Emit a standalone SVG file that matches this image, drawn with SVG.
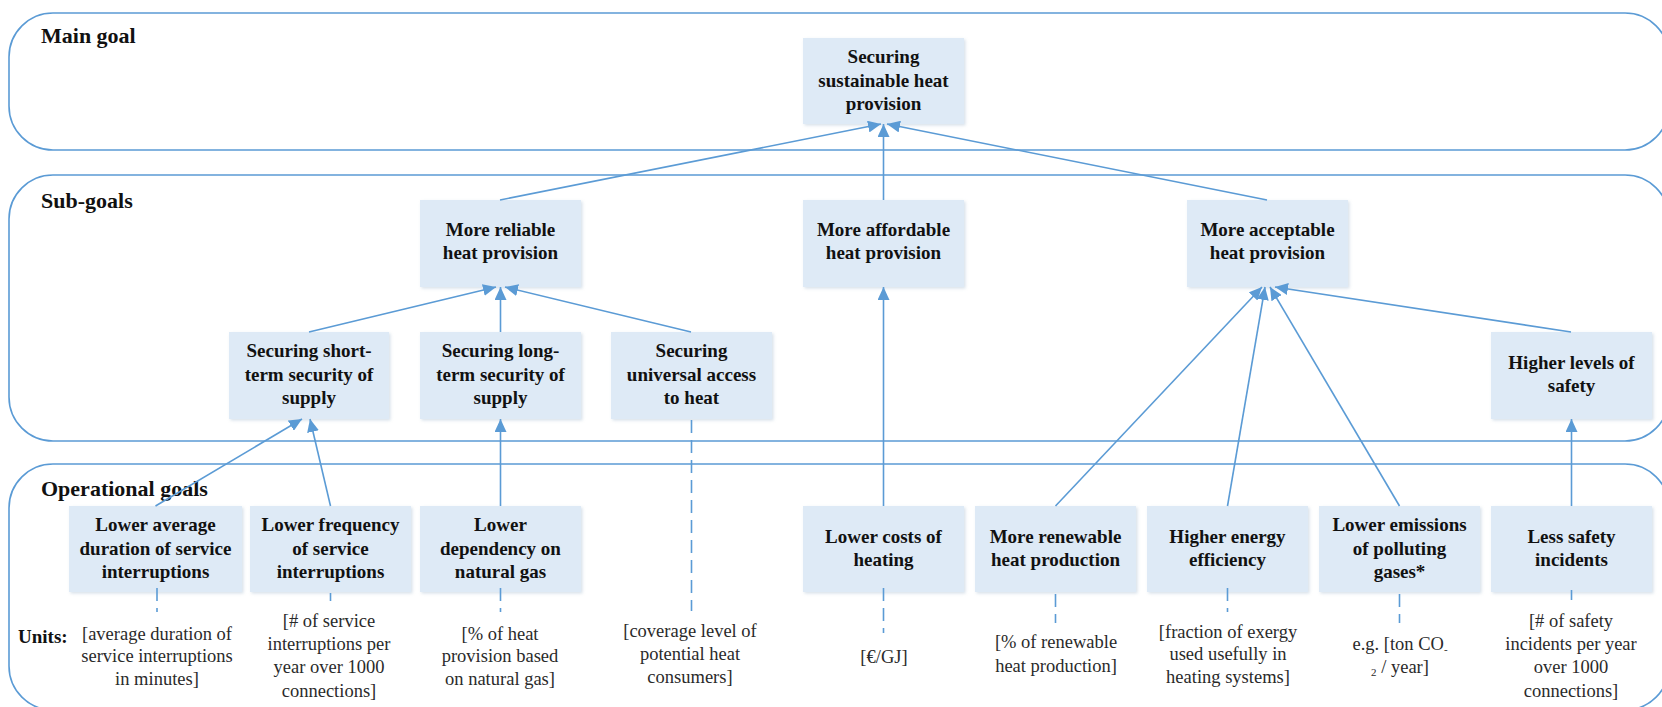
<svg xmlns="http://www.w3.org/2000/svg" width="1662" height="707" viewBox="0 0 1662 707">
  <defs>
    <style>
      .band { fill: none; stroke: #5B9BD5; stroke-width: 1.6; }
      .band-label { font-family: "Liberation Serif", "Times New Roman", serif; font-weight: bold; font-size: 22px; fill: #111; }
      .box { fill: #DEEAF6; filter: url(#soft); }
      .lbl { font-family: "Liberation Serif", "Times New Roman", serif; font-weight: bold; font-size: 19px; fill: #111; text-anchor: middle; }
      .unit { font-family: "Liberation Serif", "Times New Roman", serif; font-size: 18.5px; fill: #2a2a2a; text-anchor: middle; }
      .edge { fill: none; stroke: #5B9BD5; stroke-width: 1.6; marker-end: url(#arrow); }
      .dash { fill: none; stroke: #5B9BD5; stroke-width: 1.6; stroke-dasharray: 13 7; }
    </style>
    <marker id="arrow" markerUnits="userSpaceOnUse" markerWidth="14" markerHeight="12" refX="13" refY="6" orient="auto">
      <path d="M0,0 L13,6 L0,12 z" fill="#5B9BD5"/>
    </marker>
    <filter id="soft" x="-10%" y="-10%" width="120%" height="125%">
      <feDropShadow dx="1.5" dy="1.5" stdDeviation="1.5" flood-color="#8da9c4" flood-opacity="0.35"/>
    </filter>
  </defs>

  <!-- Level bands -->
  <g id="bands">
    <rect class="band" x="9" y="13" width="1660" height="137" rx="44"/>
    <rect class="band" x="9" y="175" width="1660" height="266" rx="44"/>
    <rect class="band" x="9" y="464" width="1660" height="246" rx="44"/>
    <text class="band-label" x="41" y="43">Main goal</text>
    <text class="band-label" x="41" y="208">Sub-goals</text>
    <text class="band-label" x="41" y="496">Operational goals</text>
    <text class="band-label" x="18" y="643" style="font-size:19px">Units:</text>
  </g>

  <!-- Main goal -->
  <g id="main">
    <rect class="box" x="803" y="38" width="161" height="86"/>
    <text class="lbl" x="883.5" y="63">Securing</text>
    <text class="lbl" x="883.5" y="86.5">sustainable heat</text>
    <text class="lbl" x="883.5" y="110">provision</text>
  </g>

  <!-- Sub-goals, first row -->
  <g id="reliable">
    <rect class="box" x="420" y="200" width="161" height="87"/>
    <text class="lbl" x="500.5" y="236">More reliable</text>
    <text class="lbl" x="500.5" y="259">heat provision</text>
  </g>
  <g id="affordable">
    <rect class="box" x="803" y="200" width="161" height="87"/>
    <text class="lbl" x="883.5" y="236">More affordable</text>
    <text class="lbl" x="883.5" y="259">heat provision</text>
  </g>
  <g id="acceptable">
    <rect class="box" x="1187" y="200" width="161" height="87"/>
    <text class="lbl" x="1267.5" y="236">More acceptable</text>
    <text class="lbl" x="1267.5" y="259">heat provision</text>
  </g>

  <!-- Sub-goals, second row -->
  <g id="short-term">
    <rect class="box" x="229" y="332" width="160" height="87"/>
    <text class="lbl" x="309" y="357">Securing short-</text>
    <text class="lbl" x="309" y="380.5">term security of</text>
    <text class="lbl" x="309" y="404">supply</text>
  </g>
  <g id="long-term">
    <rect class="box" x="420" y="332" width="161" height="87"/>
    <text class="lbl" x="500.5" y="357">Securing long-</text>
    <text class="lbl" x="500.5" y="380.5">term security of</text>
    <text class="lbl" x="500.5" y="404">supply</text>
  </g>
  <g id="universal">
    <rect class="box" x="611" y="332" width="161" height="87"/>
    <text class="lbl" x="691.5" y="357">Securing</text>
    <text class="lbl" x="691.5" y="380.5">universal access</text>
    <text class="lbl" x="691.5" y="404">to heat</text>
  </g>
  <g id="safety">
    <rect class="box" x="1491" y="332" width="161" height="87"/>
    <text class="lbl" x="1571.5" y="369">Higher levels of</text>
    <text class="lbl" x="1571.5" y="392">safety</text>
  </g>

  <!-- Operational goals -->
  <g id="op-duration">
    <rect class="box" x="69" y="506" width="173" height="86"/>
    <text class="lbl" x="155.5" y="531">Lower average</text>
    <text class="lbl" x="155.5" y="554.5">duration of service</text>
    <text class="lbl" x="155.5" y="578">interruptions</text>
  </g>
  <g id="op-frequency">
    <rect class="box" x="250" y="506" width="161" height="86"/>
    <text class="lbl" x="330.5" y="531">Lower frequency</text>
    <text class="lbl" x="330.5" y="554.5">of service</text>
    <text class="lbl" x="330.5" y="578">interruptions</text>
  </g>
  <g id="op-gas">
    <rect class="box" x="420" y="506" width="161" height="86"/>
    <text class="lbl" x="500.5" y="531">Lower</text>
    <text class="lbl" x="500.5" y="554.5">dependency on</text>
    <text class="lbl" x="500.5" y="578">natural gas</text>
  </g>
  <g id="op-costs">
    <rect class="box" x="803" y="506" width="161" height="86"/>
    <text class="lbl" x="883.5" y="543">Lower costs of</text>
    <text class="lbl" x="883.5" y="566">heating</text>
  </g>
  <g id="op-renewable">
    <rect class="box" x="975" y="506" width="161" height="86"/>
    <text class="lbl" x="1055.5" y="543">More renewable</text>
    <text class="lbl" x="1055.5" y="566">heat production</text>
  </g>
  <g id="op-efficiency">
    <rect class="box" x="1147" y="506" width="161" height="86"/>
    <text class="lbl" x="1227.5" y="543">Higher energy</text>
    <text class="lbl" x="1227.5" y="566">efficiency</text>
  </g>
  <g id="op-emissions">
    <rect class="box" x="1319" y="506" width="161" height="86"/>
    <text class="lbl" x="1399.5" y="531">Lower emissions</text>
    <text class="lbl" x="1399.5" y="554.5">of polluting</text>
    <text class="lbl" x="1399.5" y="578">gases*</text>
  </g>
  <g id="op-incidents">
    <rect class="box" x="1491" y="506" width="161" height="86"/>
    <text class="lbl" x="1571.5" y="543">Less safety</text>
    <text class="lbl" x="1571.5" y="566">incidents</text>
  </g>

  <!-- Measurement units -->
  <g id="units">
    <text class="unit" x="157" y="640">[average duration of</text>
    <text class="unit" x="157" y="662">service interruptions</text>
    <text class="unit" x="157" y="685">in minutes]</text>

    <text class="unit" x="329" y="627">[# of service</text>
    <text class="unit" x="329" y="650">interruptions per</text>
    <text class="unit" x="329" y="673">year over 1000</text>
    <text class="unit" x="329" y="697">connections]</text>

    <text class="unit" x="500" y="640">[% of heat</text>
    <text class="unit" x="500" y="662">provision based</text>
    <text class="unit" x="500" y="685">on natural gas]</text>

    <text class="unit" x="690" y="637">[coverage level of</text>
    <text class="unit" x="690" y="660">potential heat</text>
    <text class="unit" x="690" y="683">consumers]</text>

    <text class="unit" x="884" y="663">[€/GJ]</text>

    <text class="unit" x="1056" y="648">[% of renewable</text>
    <text class="unit" x="1056" y="672">heat production]</text>

    <text class="unit" x="1228" y="638">[fraction of exergy</text>
    <text class="unit" x="1228" y="660">used usefully in</text>
    <text class="unit" x="1228" y="683">heating systems]</text>

    <text class="unit" x="1400" y="650">e.g. [ton CO<tspan font-size="11" dy="3">-</tspan></text>
    <text class="unit" x="1400" y="673"><tspan font-size="11" dy="3">2</tspan><tspan dy="-3"> / year]</tspan></text>

    <text class="unit" x="1571" y="627">[# of safety</text>
    <text class="unit" x="1571" y="650">incidents per year</text>
    <text class="unit" x="1571" y="673">over 1000</text>
    <text class="unit" x="1571" y="697">connections]</text>
  </g>

  <!-- Connectors -->
  <g id="connectors">
    <path class="edge" d="M500,200 L881,124"/>
    <path class="edge" d="M883.5,200 L883.5,124"/>
    <path class="edge" d="M1267,200 L887,124"/>

    <path class="edge" d="M309,332 L496,287"/>
    <path class="edge" d="M500.5,332 L500.5,287"/>
    <path class="edge" d="M691,332 L505,287"/>
    <path class="edge" d="M883.5,506 L883.5,287"/>
    <path class="edge" d="M1055.5,506 L1262,287"/>
    <path class="edge" d="M1227.5,506 L1265,287"/>
    <path class="edge" d="M1399.5,506 L1270,287"/>
    <path class="edge" d="M1571,332 L1275,287"/>

    <path class="edge" d="M155.5,506 L302,419"/>
    <path class="edge" d="M330.5,506 L310,419"/>
    <path class="edge" d="M500.5,506 L500.5,419"/>
    <path class="edge" d="M1571.5,506 L1571.5,419"/>

    <path class="dash" d="M691.5,420 L691.5,611"/>
    <path class="dash" d="M157,588 L157,612"/>
    <path class="dash" d="M330.5,593 L330.5,601"/>
    <path class="dash" d="M500.5,588 L500.5,612"/>
    <path class="dash" d="M883.5,588 L883.5,633"/>
    <path class="dash" d="M1055.5,594 L1055.5,623"/>
    <path class="dash" d="M1227.5,588 L1227.5,612"/>
    <path class="dash" d="M1399.5,594 L1399.5,623"/>
    <path class="dash" d="M1571.5,590 L1571.5,600"/>
  </g>
</svg>
